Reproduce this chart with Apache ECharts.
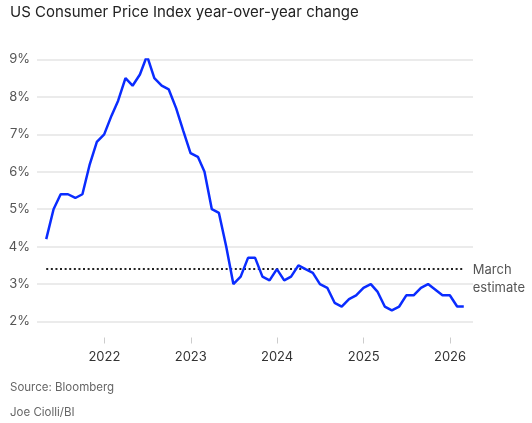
<!DOCTYPE html>
<html>
<head>
<meta charset="utf-8">
<style>
  html, body { margin: 0; padding: 0; background: #fff; }
  #chart { width: 532px; height: 423px; }
</style>
<script src="https://cdn.jsdelivr.net/npm/echarts@6/dist/echarts.min.js"></script>
</head>
<body>
<div id="chart"></div>
<script>
// months (data plotted at month end), Oct 2025 not published
const months = [
  '2021-04', '2021-05', '2021-06', '2021-07', '2021-08', '2021-09', '2021-10', '2021-11', '2021-12',
  '2022-01', '2022-02', '2022-03', '2022-04', '2022-05', '2022-06', '2022-07', '2022-08', '2022-09', '2022-10', '2022-11', '2022-12',
  '2023-01', '2023-02', '2023-03', '2023-04', '2023-05', '2023-06', '2023-07', '2023-08', '2023-09', '2023-10', '2023-11', '2023-12',
  '2024-01', '2024-02', '2024-03', '2024-04', '2024-05', '2024-06', '2024-07', '2024-08', '2024-09', '2024-10', '2024-11', '2024-12',
  '2025-01', '2025-02', '2025-03', '2025-04', '2025-05', '2025-06', '2025-07', '2025-08', '2025-09', '2025-10', '2025-11', '2025-12',
  '2026-01', '2026-02'
];
const cpi = [
  4.2, 5.0, 5.4, 5.4, 5.3, 5.4, 6.2, 6.8, 7.0,
  7.5, 7.9, 8.5, 8.3, 8.6, 9.1, 8.5, 8.3, 8.2, 7.7, 7.1, 6.5,
  6.4, 6.0, 5.0, 4.9, 4.0, 3.0, 3.2, 3.7, 3.7, 3.2, 3.1, 3.4,
  3.1, 3.2, 3.5, 3.4, 3.3, 3.0, 2.9, 2.5, 2.4, 2.6, 2.7, 2.9,
  3.0, 2.8, 2.4, 2.3, 2.4, 2.7, 2.7, 2.9, 3.0, null, 2.7, 2.7,
  2.4, 2.4
];
const marchEstimate = 3.4;
const yTicks = { min: 2, max: 9, step: 1 };

// last day of a 'YYYY-MM' month
const monthEnd = s => {
  const [y, m] = s.split('-').map(Number);
  return Date.UTC(y, m, 0);
};

const cpiData = months.map((m, i) => [monthEnd(m), cpi[i]]);
const estData = [
  [monthEnd(months[0]), marchEstimate],
  [monthEnd(months[months.length - 1]), marchEstimate]
];

const chart = echarts.init(document.getElementById('chart'));
const FONT = 'Inter, "Noto Sans", sans-serif';

chart.setOption({
  animation: false,
  title: [
    { text: 'US Consumer Price Index year-over-year change', left: 10, top: 5, padding: 0,
      textStyle: { fontFamily: FONT, fontSize: 15, fontWeight: 'normal', color: '#222' } },
    { text: 'Source: Bloomberg', left: 10, top: 382, padding: 0,
      textStyle: { fontFamily: FONT, fontSize: 11.5, fontWeight: 'normal', color: '#666' } },
    { text: 'Joe Ciolli/BI', left: 10, top: 407, padding: 0,
      textStyle: { fontFamily: FONT, fontSize: 11.5, fontWeight: 'normal', color: '#666' } }
  ],
  grid: { left: 37, right: 59, top: 59.5, bottom: 101.5, containLabel: false },
  xAxis: {
    type: 'time',
    min: Date.UTC(2021, 2, 22),
    max: Date.UTC(2026, 3, 8),
    offset: 16,
    minInterval: 365 * 24 * 3600 * 1000,
    axisLine: { show: false },
    axisTick: { show: true, length: 6, lineStyle: { color: '#cccccc' } },
    splitLine: { show: false },
    axisLabel: {
      fontFamily: FONT, fontSize: 13, color: '#333', margin: 13,
      showMinLabel: false, showMaxLabel: false,
      formatter: v => String(new Date(v).getUTCFullYear())
    }
  },
  yAxis: {
    type: 'value',
    min: yTicks.min,
    max: yTicks.max,
    interval: yTicks.step,
    axisLine: { show: false },
    axisTick: { show: false },
    splitLine: { lineStyle: { color: '#ebebeb', width: 2 } },
    axisLabel: { fontFamily: FONT, fontSize: 13, color: '#555', margin: 7, formatter: '{value}%' }
  },
  series: [
    {
      type: 'line',
      data: estData,
      symbol: 'none',
      silent: true,
      lineStyle: { color: '#222', width: 2, type: [2, 2.6] },
      endLabel: {
        show: true,
        formatter: 'March\nestimate',
        fontFamily: FONT, fontSize: 13, color: '#555',
        lineHeight: 18, distance: 9, offset: [0, 10]
      }
    },
    {
      type: 'line',
      data: cpiData,
      connectNulls: true,
      symbol: 'none',
      lineStyle: { color: '#0a2cff', width: 2.5 },
      z: 3
    }
  ]
});
</script>
</body>
</html>
